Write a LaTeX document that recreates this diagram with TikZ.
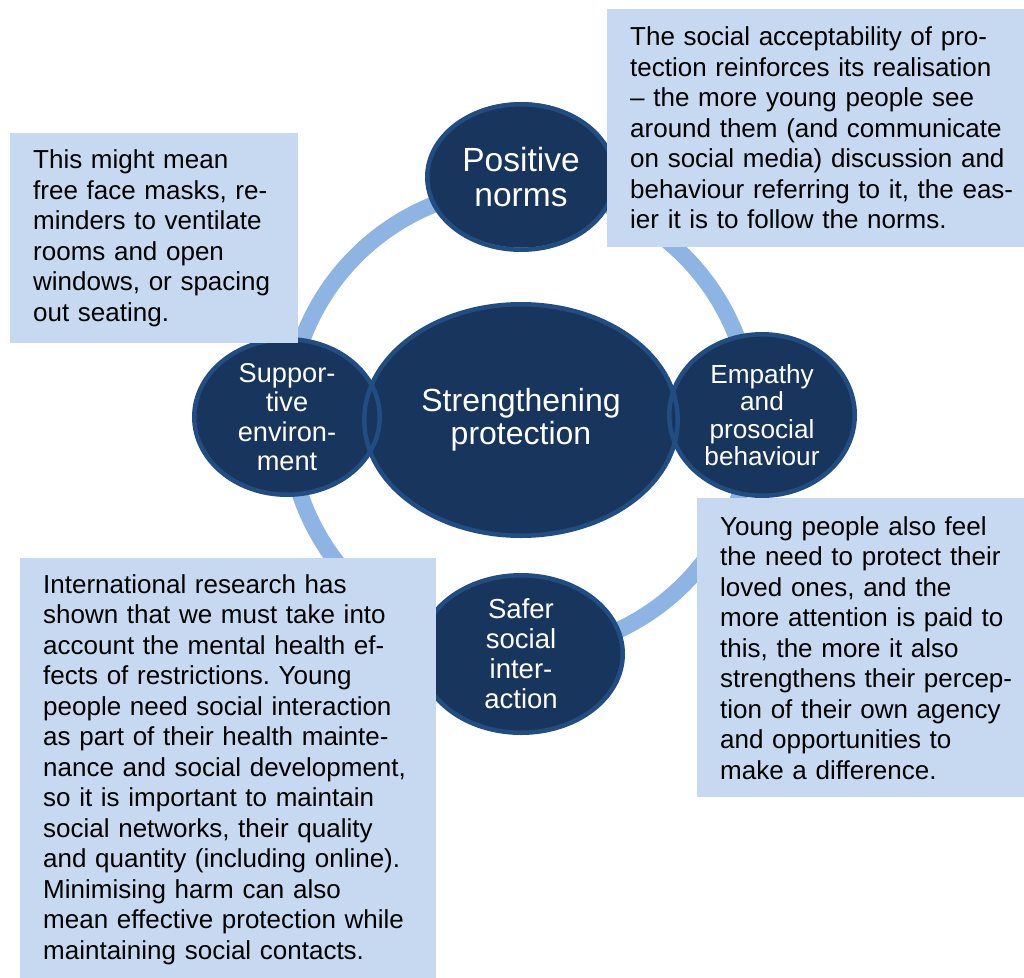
\documentclass[tikz,border=0pt]{standalone}
\usepackage{fontspec}
\setmainfont{Liberation Sans}
\usetikzlibrary{shapes.geometric}
\definecolor{bubblefill}{RGB}{24,54,93}
\definecolor{bubblerim}{RGB}{33,77,131}
\definecolor{ringblue}{RGB}{141,180,226}
\definecolor{notefill}{RGB}{198,217,241}
\frenchspacing

\tikzset{
  bubble/.style={ellipse, draw=bubblerim, line width=4.5pt, text=white, inner sep=-12pt, align=center},
  note/.style={fill=notefill, anchor=north west, inner xsep=23pt, inner ysep=0pt, align=left,
    font=\fontsize{26}{30.5}\selectfont},
}

\begin{document}
\begin{tikzpicture}[x=1pt, y=-1pt]
  \useasboundingbox (0,0) rectangle (1024,977);
  \coordinate (mid) at (520,420);

  % Ring behind everything
  \draw[ringblue, line width=16.5pt] (mid) circle (232);

  % Bubble bodies first, so every rim stays visible
  \fill[bubblefill] (521,420) ellipse (156.75 and 115.75);
  \fill[bubblefill] (521,175) ellipse (93.75 and 72.75);
  \fill[bubblefill] (287,417) ellipse (92.75 and 77.75);
  \fill[bubblefill] (762,415) ellipse (92.75 and 80.75);
  \fill[bubblefill] (521,654) ellipse (101.75 and 78.75);

  % Bubbles
  \node[bubble, minimum width=313.5, minimum height=231.5, font=\fontsize{32}{33}\selectfont]
    (hub) at (521,420) {Strengthening\\protection};
  \node[bubble, minimum width=187.5, minimum height=145.5, font=\fontsize{33.5}{35}\selectfont]
    (norms) at (521,177) {Positive\\norms};
  \node[bubble, minimum width=185.5, minimum height=155.5, font=\fontsize{27.2}{29.4}\selectfont]
    (support) at (287,417) {Suppor-\\tive\\environ-\\ment};
  \node[bubble, minimum width=185.5, minimum height=161.5, font=\fontsize{26.2}{27.4}\selectfont]
    (empathy) at (762,415) {Empathy\\and\\prosocial\\behaviour};
  \node[bubble, minimum width=203.5, minimum height=157.5, font=\fontsize{27.5}{30}\selectfont]
    (safer) at (521,654) {Safer\\social\\inter-\\action};

  % Notes
  \node[note, text width=242, minimum height=210] (masks) at (10,133)
    {This might mean\\free face masks, re-\\minders to ventilate\\rooms and open\\windows, or spacing\\out seating.};
  \node[note, text width=395, minimum height=238] (accept) at (607,9)
    {The social acceptability of pro-\\tection reinforces its realisation\\– the more young people see\\around them (and communicate\\on social media) discussion and\\behaviour referring to it, the eas-\\ier it is to follow the norms.};
  \node[note, text width=380, minimum height=299] (loved) at (697,498)
    {Young people also feel\\the need to protect their\\loved ones, and the\\more attention is paid to\\this, the more it also\\strengthens their percep-\\tion of their own agency\\and opportunities to\\make a difference.};
  \node[note, text width=370, minimum height=423] (research) at (20,558)
    {International research has\\shown that we must take into\\account the mental health ef-\\fects of restrictions. Young\\people need social interaction\\as part of their health mainte-\\nance and social development,\\so it is important to maintain\\social networks, their quality\\and quantity (including online).\\Minimising harm can also\\mean effective protection while\\maintaining social contacts.};
\end{tikzpicture}
\end{document}
